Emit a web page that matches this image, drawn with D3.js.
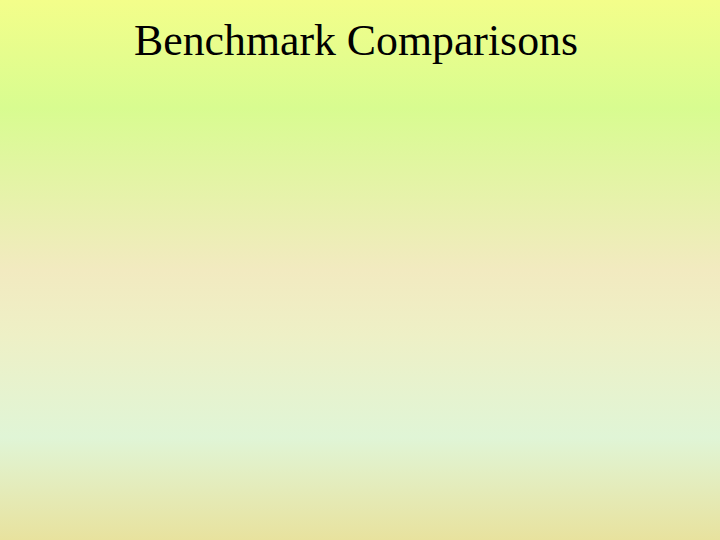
<!DOCTYPE html>
<html lang="en">
<head>
    <meta charset="UTF-8">
    <title>Benchmark Comparisons</title>
    <script src="https://d3js.org/d3.v7.min.js"></script>
    <style>
        html, body { margin: 0; padding: 0; overflow: hidden; }
    </style>
</head>
<body>
    <div id="slide"></div>
    <script>
        const title = "Benchmark Comparisons";
        // slide has no chart content, only the title
        const categories = [];
        const values = [];

        const width = 720;
        const height = 540;

        const svg = d3.select("#slide")
            .append("svg")
            .attr("width", width)
            .attr("height", height);

        const grad = svg.append("defs")
            .append("linearGradient")
            .attr("id", "bg")
            .attr("x1", 0).attr("y1", 0)
            .attr("x2", 0).attr("y2", 1);

        const stops = [
            [0, "#f3fe8a"],
            [0.2, "#d8fc90"],
            [0.5, "#f2eac0"],
            [0.62, "#eef0c6"],
            [0.81, "#e0f5d6"],
            [1, "#e8e29e"]
        ];
        grad.selectAll("stop")
            .data(stops)
            .enter()
            .append("stop")
            .attr("offset", d => d[0])
            .attr("stop-color", d => d[1]);

        svg.append("rect")
            .attr("width", width)
            .attr("height", height)
            .attr("fill", "url(#bg)");

        svg.append("text")
            .attr("x", 356)
            .attr("y", 55)
            .attr("text-anchor", "middle")
            .attr("textLength", 444)
            .attr("lengthAdjust", "spacingAndGlyphs")
            .style("font-family", "'Liberation Serif', 'Times New Roman', serif")
            .style("font-size", "44px")
            .style("fill", "#000")
            .text(title);
    </script>
</body>
</html>
